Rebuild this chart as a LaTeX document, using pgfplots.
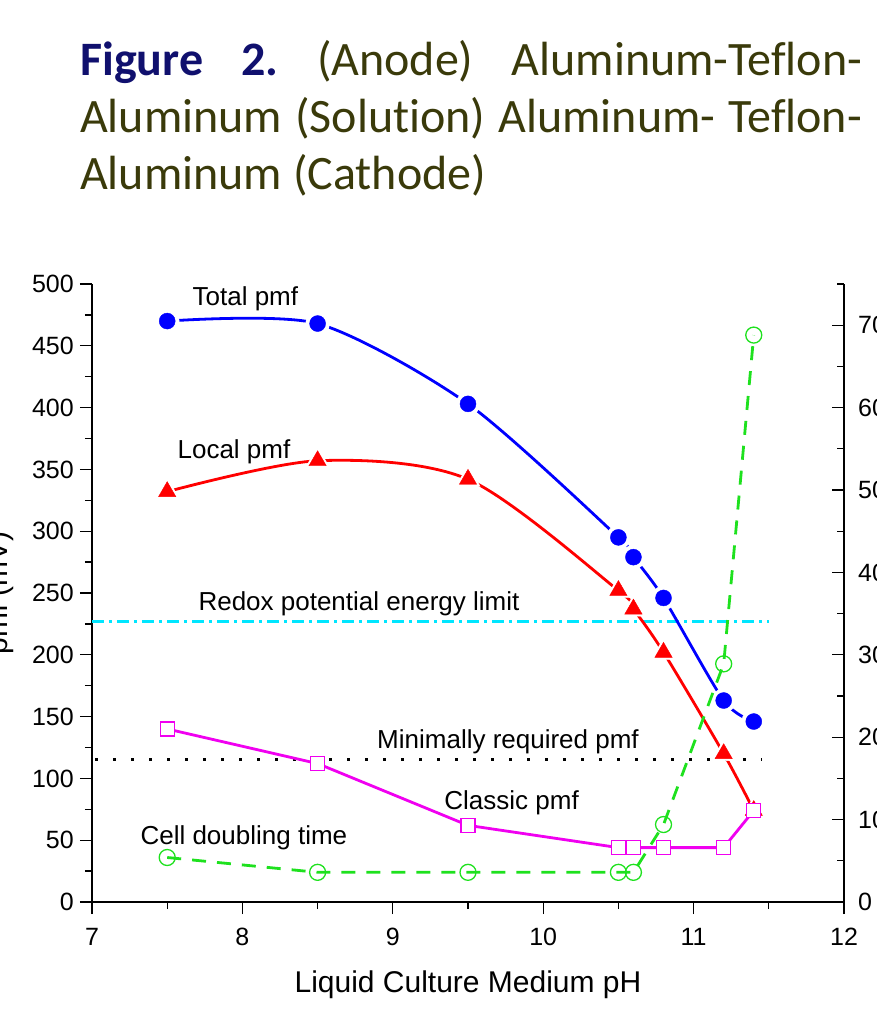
\documentclass[border=0pt]{standalone}
\usepackage{pgfplots}
\pgfplotsset{compat=1.18}
\usepackage{fontspec}
\setmainfont{Liberation Sans}
\newfontfamily\carlito[Ligatures=NoCommon]{Carlito}
\definecolor{navyfig}{RGB}{16,16,110}
\definecolor{olivetxt}{RGB}{58,58,10}
\definecolor{pblue}{RGB}{0,0,255}
\definecolor{pred}{RGB}{255,0,0}
\definecolor{pmag}{RGB}{240,0,240}
\definecolor{pgreen}{RGB}{30,225,30}
\definecolor{pcyan}{RGB}{0,230,255}

\pgfplotstableread{
x total local classic
7.5 470 332 140
8.5 468 357 112
9.5 403 342 62
10.5 295 252 44
10.6 279 237 44
10.8 246 202 44
11.2 163 120 44
11.4 146 74 74
}\pmfdata

\pgfplotstableread{
x doubling
7.5 5.4
8.5 3.6
9.5 3.6
10.5 3.6
10.6 3.6
10.8 9.4
11.2 28.9
11.4 68.8
}\doubdata

\begin{document}
\frenchspacing
\begin{tikzpicture}
\useasboundingbox (-92pt,-116pt) rectangle (785pt,902pt);
\clip (-92pt,-116pt) rectangle (785pt,902pt);
% caption lines
\node[anchor=base west, inner sep=0pt, font=\carlito\fontsize{48}{57}\selectfont, text=olivetxt] at (-12pt,826pt)
  {\makebox[782pt][s]{\textcolor{navyfig}{\bfseries Figure 2.} (Anode) Aluminum-Teflon-}};
\node[anchor=base west, inner sep=0pt, font=\carlito\fontsize{48}{57}\selectfont, text=olivetxt] at (-12pt,769pt)
  {\makebox[782pt][s]{Aluminum (Solution) Aluminum- Teflon-}};
\node[anchor=base west, inner sep=0pt, font=\carlito\fontsize{48}{57}\selectfont, text=olivetxt] at (-12pt,712pt)
  {Aluminum (Cathode)};
% y label (mostly cut off)
\node[rotate=90, anchor=base, inner sep=0pt, font=\fontsize{30}{36}\selectfont] at (-84pt,309pt) {pmf (mV)};

\begin{axis}[
  at={(0pt,0pt)}, anchor=south west,
  scale only axis, width=752pt, height=618pt,
  xmin=7, xmax=12, ymin=0, ymax=500,
  axis x line*=bottom, axis y line*=left,
  x axis line style={-}, y axis line style={-},
  axis line style={line width=1.3pt, black},
  xtick={7,8,...,12}, ytick={0,50,...,500},
  minor x tick num=1, minor y tick num=1,
  tick align=outside, major tick length=12pt, minor tick length=7pt,
  every tick/.style={black, line width=1.3pt},
  /pgf/number format/assume math mode=true,
  xticklabel style={font=\fontsize{25}{30}\selectfont, inner sep=0pt, anchor=north, yshift=-14pt},
  yticklabel style={font=\fontsize{25}{30}\selectfont, inner sep=0pt, anchor=east, xshift=-6pt},
  xlabel={Liquid Culture Medium pH},
  xlabel style={font=\fontsize{30}{36}\selectfont, inner sep=0pt, anchor=base, at={(axis description cs:0.5,-0.147)}},
  clip=false,
]
% reference lines
\addplot[pcyan, line width=2.8pt, dash pattern=on 12pt off 5pt on 3pt off 5pt] coordinates {(7,227) (11.5,227)};
\addplot[black, line width=3pt, dash pattern=on 3pt off 15pt] coordinates {(7.02,115) (11.45,115)};
% total pmf
\addplot[pblue, line width=2.8pt, smooth, tension=0.45] table[x=x,y=total] {\pmfdata};
\addplot[only marks, mark=*, mark size=12pt, white] table[x=x,y=total] {\pmfdata};
\addplot[only marks, mark=*, mark size=8pt, pblue] table[x=x,y=total] {\pmfdata};
% local pmf
\addplot[pred, line width=2.8pt, smooth, tension=0.5] table[x=x,y=local] {\pmfdata};
\addplot[only marks, mark=triangle*, mark size=14pt, white] table[x=x,y=local] {\pmfdata};
\addplot[only marks, mark=triangle*, mark size=10pt, pred] table[x=x,y=local] {\pmfdata};
% classic pmf
\addplot[pmag, line width=2.8pt, mark=square*, mark size=7pt, mark options={solid, fill=white, draw=pmag, line width=1.3pt}] table[x=x,y=classic] {\pmfdata};
% annotations
\node[font=\fontsize{26}{31}\selectfont] at (axis cs:8.02,488) {Total pmf};
\node[font=\fontsize{26}{31}\selectfont] at (axis cs:7.944,364) {Local pmf};
\node[font=\fontsize{26}{31}\selectfont] at (axis cs:8.775,241) {Redox potential energy limit};
\node[font=\fontsize{26}{31}\selectfont] at (axis cs:9.766,130) {Minimally required pmf};
\node[font=\fontsize{26}{31}\selectfont] at (axis cs:9.79,80) {Classic pmf};
\node[font=\fontsize{26}{31}\selectfont] at (axis cs:8.01,52) {Cell doubling time};
\end{axis}

\begin{axis}[
  at={(0pt,0pt)}, anchor=south west,
  scale only axis, width=752pt, height=618pt,
  xmin=7, xmax=12, ymin=0, ymax=75,
  axis x line=none, axis y line*=right,
  y axis line style={-}, axis line style={line width=1.3pt, black},
  ytick={0,10,...,70}, minor ytick={5,15,...,75},
  tick align=inside, major tick length=12pt, minor tick length=7pt,
  every tick/.style={black, line width=1.3pt},
  /pgf/number format/assume math mode=true,
  yticklabel style={font=\fontsize{25}{30}\selectfont, inner sep=0pt, anchor=west, xshift=14pt},
  clip=false,
]
\addplot[pgreen, line width=2.8pt, dash pattern=on 14pt off 11pt, mark=o, mark size=8pt, mark options={solid, fill=white, draw=pgreen, line width=1.3pt}] table[x=x,y=doubling] {\doubdata};
\end{axis}
\end{tikzpicture}
\end{document}
